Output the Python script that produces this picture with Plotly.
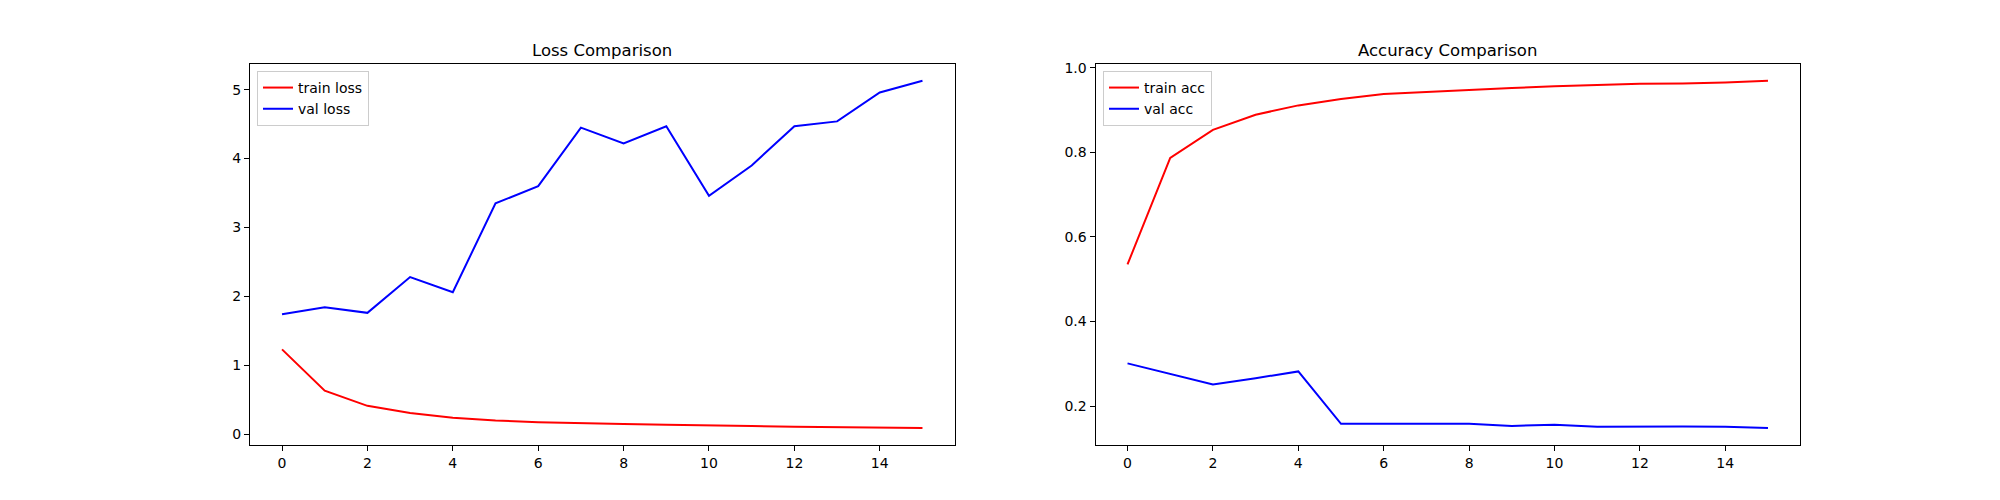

# Loss / accuracy comparison over training epochs (two side-by-side panels)

import plotly.graph_objects as go

# --- data ---
epochs = list(range(16))

train_loss = [1.23, 0.63, 0.41, 0.305, 0.237, 0.198, 0.173, 0.155, 0.145, 0.136,
              0.122, 0.116, 0.105, 0.100, 0.095, 0.087]
val_loss = [1.74, 1.84, 1.76, 2.28, 2.06, 3.35, 3.60, 4.45, 4.22, 4.47,
            3.46, 3.90, 4.47, 4.54, 4.96, 5.13]

train_acc = [0.535, 0.787, 0.853, 0.889, 0.911, 0.926, 0.938, 0.943, 0.948, 0.952,
             0.956, 0.959, 0.962, 0.963, 0.965, 0.969]
val_acc = [0.301, 0.276, 0.251, 0.266, 0.282, 0.158, 0.158, 0.158, 0.158, 0.153,
           0.156, 0.151, 0.152, 0.152, 0.151, 0.148]

x_ticks = [0, 2, 4, 6, 8, 10, 12, 14]
loss_ticks = [0, 1, 2, 3, 4, 5]
acc_ticks = [0.2, 0.4, 0.6, 0.8, 1.0]

# --- figure ---
font = "DejaVu Sans"
fig = go.Figure()

fig.add_trace(go.Scatter(x=epochs, y=train_loss, mode="lines", name="train loss",
                         line=dict(color="red", width=2), xaxis="x", yaxis="y", legend="legend"))
fig.add_trace(go.Scatter(x=epochs, y=val_loss, mode="lines", name="val loss",
                         line=dict(color="blue", width=2), xaxis="x", yaxis="y", legend="legend"))
fig.add_trace(go.Scatter(x=epochs, y=train_acc, mode="lines", name="train acc",
                         line=dict(color="red", width=2), xaxis="x2", yaxis="y2", legend="legend2"))
fig.add_trace(go.Scatter(x=epochs, y=val_acc, mode="lines", name="val acc",
                         line=dict(color="blue", width=2), xaxis="x2", yaxis="y2", legend="legend2"))

axis_style = dict(showline=True, linecolor="black", linewidth=1, mirror=True,
                  ticks="outside", ticklen=5, tickwidth=1, tickcolor="black",
                  showgrid=False, zeroline=False,
                  tickfont=dict(family=font, size=14, color="black"))

left_dom = [0.125, 0.47725]
right_dom = [0.54775, 0.9]
y_dom = [0.11, 0.88]

legend_style = dict(bgcolor="rgba(255,255,255,0.8)", bordercolor="#cccccc", borderwidth=1,
                    font=dict(family=font, size=14, color="black"),
                    xanchor="left", yanchor="top", tracegroupgap=0, itemwidth=30)

fig.update_layout(
    width=2000, height=500,
    margin=dict(l=0, r=0, t=0, b=0),
    paper_bgcolor="white", plot_bgcolor="white",
    font=dict(family=font, size=14, color="black"),
    xaxis=dict(domain=left_dom, anchor="y", range=[-0.75, 15.75], tickvals=x_ticks, **axis_style),
    yaxis=dict(domain=y_dom, anchor="x", range=[-0.165, 5.38], tickvals=loss_ticks, **axis_style),
    xaxis2=dict(domain=right_dom, anchor="y2", range=[-0.75, 15.75], tickvals=x_ticks, **axis_style),
    yaxis2=dict(domain=y_dom, anchor="x2", range=[0.107, 1.010], tickvals=acc_ticks,
                tickformat=".1f", **axis_style),
    legend=dict(x=0.1285, y=0.865, **legend_style),
    legend2=dict(x=0.5515, y=0.865, **legend_style),
    annotations=[
        dict(text="Loss Comparison", x=sum(left_dom) / 2, y=0.907, xref="paper", yref="paper",
             xanchor="center", yanchor="middle", showarrow=False,
             font=dict(family=font, size=16.5, color="black")),
        dict(text="Accuracy Comparison", x=sum(right_dom) / 2, y=0.907, xref="paper", yref="paper",
             xanchor="center", yanchor="middle", showarrow=False,
             font=dict(family=font, size=16.5, color="black")),
    ],
)

# drop the browser's default body margin so the figure sits at the page origin
fig.write_html("out.html", config={"displayModeBar": False},
               post_script="document.body.style.margin='0';")
